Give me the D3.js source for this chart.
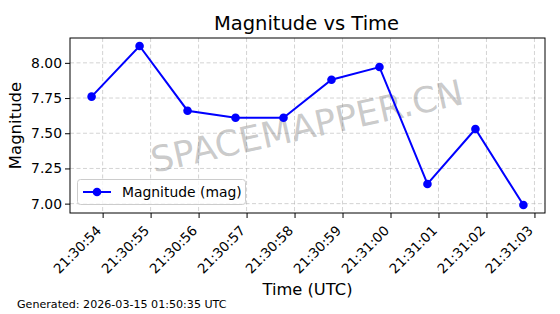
<!DOCTYPE html>
<html><head><meta charset="utf-8">
<script src="https://cdn.jsdelivr.net/npm/d3@7"></script>
<style>body{margin:0;background:#fff}svg{display:block;font-family:"DejaVu Sans",sans-serif}</style>
</head><body><svg id="c" width="560" height="314"></svg>
<script>
// Data
const times = ["21:30:53.77","21:30:54.77","21:30:55.77","21:30:56.77","21:30:57.77","21:30:58.77","21:30:59.77","21:31:00.77","21:31:01.77","21:31:02.77"];
const magnitudes = [7.76, 8.12, 7.66, 7.61, 7.61, 7.88, 7.97, 7.14, 7.53, 6.99];
const xTickLabels = ["21:30:54","21:30:55","21:30:56","21:30:57","21:30:58","21:30:59","21:31:00","21:31:01","21:31:02","21:31:03"];
const yTicks = [7.00, 7.25, 7.50, 7.75, 8.00];

const toSec = s => { const [h,m,sec] = s.split(":").map(Number); return h*3600+m*60+sec; };
const tvals = times.map(toSec);
const xt = xTickLabels.map(toSec);

const svg = d3.select("#c");
const L = 70, R = 545, T = 38, B = 213;
const tmin = d3.min(tvals), tmax = d3.max(tvals), tr = tmax - tmin;
const x = d3.scaleLinear().domain([tmin - 0.05*tr, tmax + 0.05*tr]).range([L, R]);
const ymin = d3.min(magnitudes), ymax = d3.max(magnitudes), yr = ymax - ymin;
const y = d3.scaleLinear().domain([ymin - 0.05*yr, ymax + 0.05*yr]).range([B, T]);

// grid
const g = svg.append("g");
g.selectAll(".gx").data(xt).enter().append("line")
  .attr("x1", d=>x(d)).attr("x2", d=>x(d)).attr("y1", T).attr("y2", B)
  .attr("stroke", "#b0b0b0").attr("stroke-opacity", 0.7).attr("stroke-width", 0.8).attr("stroke-dasharray", "4,2.5");
g.selectAll(".gy").data(yTicks).enter().append("line")
  .attr("y1", d=>y(d)).attr("y2", d=>y(d)).attr("x1", L).attr("x2", R)
  .attr("stroke", "#b0b0b0").attr("stroke-opacity", 0.7).attr("stroke-width", 0.8).attr("stroke-dasharray", "4,2.5");

// watermark
svg.append("text").attr("transform", `translate(${(L+R)/2},${(T+B)/2+3}) rotate(-12.5)`)
  .attr("text-anchor", "middle").attr("dominant-baseline", "middle")
  .attr("font-size", 35.5).attr("fill", "#808080").attr("fill-opacity", 0.42)
  .text("SPACEMAPPER.CN");

// line
svg.append("path").datum(magnitudes.map((m,i)=>[tvals[i], m]))
  .attr("fill", "none").attr("stroke", "#0000ff").attr("stroke-width", 2)
  .attr("d", d3.line().x(d=>x(d[0])).y(d=>y(d[1])));
svg.selectAll(".pt").data(magnitudes).enter().append("circle")
  .attr("cx", (d,i)=>x(tvals[i])).attr("cy", d=>y(d)).attr("r", 4.3).attr("fill", "#0000ff");

// axes
const xAxis = d3.axisBottom(x).tickValues(xt).tickFormat((d,i)=>xTickLabels[i]).tickSizeOuter(0).tickSize(5).tickPadding(3);
const xg = svg.append("g").attr("transform", `translate(0,${B})`).call(xAxis);
xg.select(".domain").remove();
xg.selectAll("text").attr("font-size", 13.5).attr("font-family", "DejaVu Sans").attr("fill", "#000")
  .attr("text-anchor", "end").attr("y", 0).attr("dy", 0)
  .attr("transform", "translate(-1,18.5) rotate(-45)");
const yAxis = d3.axisLeft(y).tickValues(yTicks).tickFormat(d3.format(".2f")).tickSizeOuter(0).tickSize(5).tickPadding(3);
const yg = svg.append("g").attr("transform", `translate(${L},0)`).call(yAxis);
yg.select(".domain").remove();
yg.selectAll("text").attr("font-size", 13.9).attr("font-family", "DejaVu Sans").attr("fill", "#000");
svg.append("rect").attr("x", L).attr("y", T).attr("width", R-L).attr("height", B-T)
  .attr("fill", "none").attr("stroke", "#000").attr("stroke-width", 1);

// legend
const lg = svg.append("g");
lg.append("rect").attr("x", 77.5).attr("y", 179.5).attr("width", 168).attr("height", 25).attr("rx", 3)
  .attr("fill", "#fff").attr("fill-opacity", 0.8).attr("stroke", "#ccc");
lg.append("line").attr("x1", 83).attr("x2", 111).attr("y1", 192).attr("y2", 192).attr("stroke", "#0000ff").attr("stroke-width", 2);
lg.append("circle").attr("cx", 97).attr("cy", 192).attr("r", 4.3).attr("fill", "#0000ff");
lg.append("text").attr("x", 122).attr("y", 197).attr("font-size", 13.9).text("Magnitude (mag)");

// titles
svg.append("text").attr("x", (L+R)/2 - 1).attr("y", 30).attr("text-anchor", "middle").attr("font-size", 19.5).text("Magnitude vs Time");
svg.append("text").attr("x", (L+R)/2).attr("y", 295).attr("text-anchor", "middle").attr("font-size", 16.3).text("Time (UTC)");
svg.append("text").attr("transform", `translate(20.5,${(T+B)/2}) rotate(-90)`).attr("text-anchor", "middle").attr("font-size", 16.5).text("Magnitude");
svg.append("text").attr("x", 17).attr("y", 307.5).attr("font-size", 11.1).text("Generated: 2026-03-15 01:50:35 UTC");
</script></body></html>
